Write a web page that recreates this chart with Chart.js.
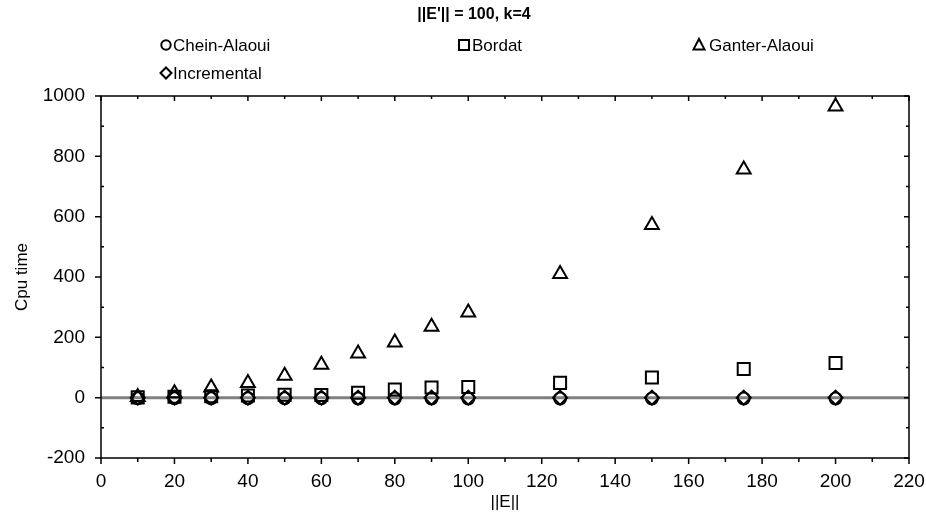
<!DOCTYPE html>
<html>
<head>
<meta charset="utf-8">
<script src="https://cdn.jsdelivr.net/npm/chart.js@4/dist/chart.umd.min.js"></script>
<style>
html,body{margin:0;padding:0;background:#fff;}
#wrap{position:relative;width:926px;height:521px;}
</style>
</head>
<body>
<div id="wrap"><canvas id="c" width="926" height="521"></canvas></div>
<script>
const xValues = [10, 20, 30, 40, 50, 60, 70, 80, 90, 100, 125, 150, 175, 200];
const cheinAlaoui = [-2, -2, -2, -2, -2, -2, -3, -3, -3, -3, -3, -3, -3, -3];
const bordat = [1, 3, 5, 7, 10, 9, 16, 27, 34, 35, 49, 67, 95, 115];
const ganterAlaoui = [2, 15, 34, 49, 73, 109, 146, 183, 235, 282, 410, 572, 756, 965];
const incremental = [0, 0, 0, 0, 0, 0, 0, 0, 0, 0, 0, 0, 0, 0];
const seriesNames = ['Chein-Alaoui', 'Bordat', 'Ganter-Alaoui', 'Incremental'];
const titleText = "||E'|| = 100, k=4";
const xTitle = '||E||';
const yTitle = 'Cpu time';

const FONT = "'Liberation Sans', Arial, sans-serif";

function pts(ys) { return xValues.map((x, i) => ({x: x, y: ys[i]})); }

const common = {
  showLine: false,
  backgroundColor: 'rgba(0,0,0,0)',
  borderColor: '#000',
  pointBackgroundColor: 'rgba(0,0,0,0)',
  pointBorderColor: '#000',
  pointBorderWidth: 2,
  pointHoverRadius: 6
};

const datasets = [
  Object.assign({}, common, {label: seriesNames[1], data: pts(bordat), pointStyle: 'rect', pointRadius: 8.5}),
  Object.assign({}, common, {label: seriesNames[2], data: pts(ganterAlaoui), pointStyle: 'triangle', pointRadius: 8}),
  Object.assign({}, common, {label: seriesNames[3], data: pts(incremental), pointStyle: 'rectRot', pointRadius: 7}),
  Object.assign({}, common, {label: seriesNames[0], data: pts(cheinAlaoui), pointStyle: 'circle', pointRadius: 6})
];

function drawMarker(ctx, style, x, y, r) {
  ctx.beginPath();
  if (style === 'circle') {
    ctx.arc(x, y, r, 0, Math.PI * 2);
  } else if (style === 'rect') {
    ctx.rect(x - r, y - r, 2 * r, 2 * r);
  } else if (style === 'triangle') {
    ctx.moveTo(x, y - r * 1.1);
    ctx.lineTo(x + r, y + r * 0.8);
    ctx.lineTo(x - r, y + r * 0.8);
    ctx.closePath();
  } else if (style === 'diamond') {
    ctx.moveTo(x, y - r);
    ctx.lineTo(x + r, y);
    ctx.lineTo(x, y + r);
    ctx.lineTo(x - r, y);
    ctx.closePath();
  }
  ctx.stroke();
}

const framePlugin = {
  id: 'frame',
  beforeDatasetsDraw(chart) {
    const {ctx, chartArea: a, scales} = chart;
    const y0 = scales.y.getPixelForValue(0);
    ctx.save();
    ctx.strokeStyle = '#808080';
    ctx.lineWidth = 3;
    ctx.beginPath();
    ctx.moveTo(a.left, y0);
    ctx.lineTo(a.right, y0);
    ctx.stroke();
    ctx.restore();
  },
  afterDatasetsDraw(chart) {
    const {ctx, chartArea: a, scales} = chart;
    ctx.save();
    ctx.strokeStyle = '#000';
    ctx.lineWidth = 1.5;
    ctx.strokeRect(a.left, a.top, a.right - a.left, a.bottom - a.top);
    ctx.beginPath();
    for (let v = 0; v <= 220; v += 10) {
      const px = scales.x.getPixelForValue(v);
      const major = v % 20 === 0;
      const lb = major ? 6 : 4;
      const lt = major ? 5 : 3;
      ctx.moveTo(px, a.bottom); ctx.lineTo(px, a.bottom + lb);
      ctx.moveTo(px, a.top); ctx.lineTo(px, a.top + lt);
    }
    for (let v = -200; v <= 1000; v += 100) {
      const py = scales.y.getPixelForValue(v);
      const major = v % 200 === 0;
      if (major) {
        ctx.moveTo(a.left - 6, py); ctx.lineTo(a.left, py);
        ctx.moveTo(a.right, py); ctx.lineTo(a.right - 5, py);
      } else {
        ctx.moveTo(a.left, py); ctx.lineTo(a.left + 3, py);
        ctx.moveTo(a.right, py); ctx.lineTo(a.right - 3, py);
      }
    }
    ctx.stroke();
    ctx.restore();
  },
  afterDraw(chart) {
    const ctx = chart.ctx;
    const items = [
      {style: 'circle', r: 4.7, mx: 166, tx: 173, y: 45, text: seriesNames[0]},
      {style: 'rect', r: 5, mx: 464, tx: 472, y: 45, text: seriesNames[1]},
      {style: 'triangle', r: 5.5, mx: 699, tx: 709, y: 45, text: seriesNames[2]},
      {style: 'diamond', r: 5.5, mx: 166, tx: 173, y: 73, text: seriesNames[3]}
    ];
    ctx.save();
    ctx.fillStyle = '#000';
    ctx.font = 'bold 16px ' + FONT;
    ctx.textAlign = 'center';
    ctx.textBaseline = 'middle';
    ctx.fillText(titleText, 474, 15);
    ctx.strokeStyle = '#000';
    ctx.lineWidth = 2;
    ctx.font = '17px ' + FONT;
    ctx.textAlign = 'left';
    items.forEach(it => {
      drawMarker(ctx, it.style, it.mx, it.y, it.r);
      ctx.fillText(it.text, it.tx, it.y + 1);
    });
    ctx.restore();
  }
};

Chart.defaults.font.family = FONT;
Chart.defaults.color = '#000';

new Chart(document.getElementById('c'), {
  type: 'scatter',
  data: {datasets: datasets},
  options: {
    responsive: false,
    animation: false,
    events: [],
    layout: {padding: {left: 0, right: 0, top: 96, bottom: 0}},
    plugins: {
      legend: {display: false},
      tooltip: {enabled: false},
      title: {display: false}
    },
    scales: {
      x: {
        type: 'linear',
        min: 0, max: 220,
        grid: {display: false, drawTicks: false},
        border: {display: false},
        ticks: {stepSize: 20, font: {size: 19}, padding: 12, color: '#000', maxRotation: 0,
                callback: v => String(v)},
        title: {display: true, text: xTitle, font: {size: 17}, color: '#000', padding: {top: 0, bottom: 8}},
        afterFit: s => { s.height = 63; s.paddingRight = 17; s.paddingLeft = 0; }
      },
      y: {
        type: 'linear',
        min: -200, max: 1000,
        grid: {display: false, drawTicks: false},
        border: {display: false},
        ticks: {stepSize: 200, font: {size: 19}, padding: 16, color: '#000',
                callback: v => String(v)},
        title: {display: true, text: yTitle, font: {size: 17}, color: '#000', padding: {top: 12, bottom: 0}},
        afterFit: s => { s.width = 101; s.paddingTop = 0; s.paddingBottom = 0; }
      }
    }
  },
  plugins: [framePlugin]
});
</script>
</body>
</html>
